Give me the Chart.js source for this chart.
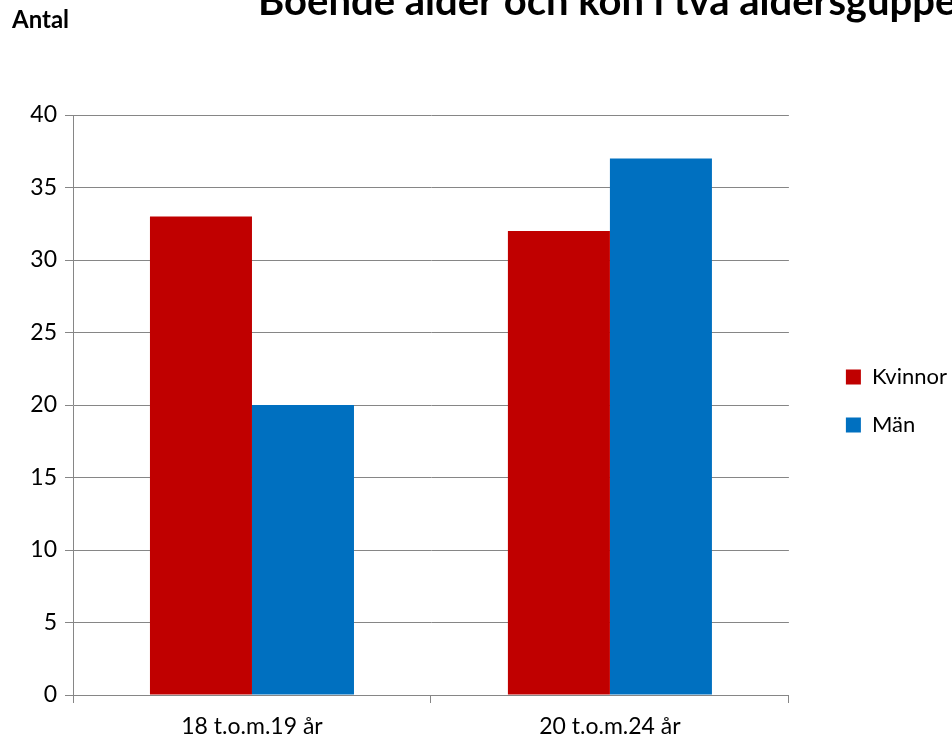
<!DOCTYPE html>
<html>
<head>
<meta charset="utf-8">
<script src="https://cdn.jsdelivr.net/npm/chart.js@4"></script>
<style>
  html, body { margin: 0; padding: 0; background: #fff; }
  #wrap { width: 952px; height: 742px; }
</style>
</head>
<body>
<div id="wrap"><canvas id="stapel"></canvas></div>
<script>
const kategorier = ["18 t.o.m.19 år", "20 t.o.m.24 år"];
const kvinnor = [33, 32];
const man = [20, 37];
const yTicks = [0, 5, 10, 15, 20, 25, 30, 35, 40];

// rubriker ritas direkt, titeln är avklippt i originalet
const rubriker = {
  id: "rubriker",
  afterDraw(chart) {
    const ctx = chart.ctx;
    ctx.save();
    ctx.fillStyle = "#000";
    ctx.textBaseline = "alphabetic";
    ctx.font = "bold 24px Lato";
    ctx.fillText("Antal", 12, 28);
    ctx.font = "bold 40px Lato";
    ctx.fillText("Boende ålder och kön i två åldersgupper", 258, 15);
    ctx.restore();
  }
};

// flytta legenden ut mot högerkanten och centrera mot ritytan
const legendPlats = {
  id: "legendPlats",
  afterLayout(chart) {
    const lg = chart.legend;
    const a = chart.chartArea;
    const dx = chart.width - lg.right + 5;
    const dy = (a.top + a.bottom) / 2 - (lg.top + lg.bottom) / 2 - 4;
    lg.left += dx;
    lg.right += dx;
    lg.top += dy;
    lg.bottom += dy;
  }
};

const ctx = document.querySelector("#stapel");
const stapelChart = new Chart(ctx, {
  type: "bar",
  data: {
    labels: kategorier,
    datasets: [
      { label: "Kvinnor", data: kvinnor, backgroundColor: "#c00000" },
      { label: "Män", data: man, backgroundColor: "#0070c0" },
    ],
  },
  options: {
    responsive: true,
    maintainAspectRatio: false,
    animation: false,
    layout: { padding: { top: 115, right: 26, left: 0, bottom: 0 } },
    datasets: { bar: { categoryPercentage: 0.57, barPercentage: 1 } },
    scales: {
      x: {
        afterFit(axis) { axis.height = 47; },
        grid: { display: true, drawOnChartArea: false, offset: true, tickLength: 8, color: "#868686" },
        border: { color: "#868686" },
        ticks: { color: "#000", font: { family: "Lato", size: 23 }, padding: 10 },
      },
      y: {
        min: 0,
        max: 40,
        afterBuildTicks(axis) { axis.ticks = yTicks.map(v => ({ value: v })); },
        afterFit(axis) { axis.width = 73; },
        grid: { color: "#868686", tickLength: 8 },
        border: { color: "#868686" },
        ticks: { color: "#000", font: { family: "Lato", size: 23 }, padding: 8 },
      },
    },
    plugins: {
      legend: {
        position: "right",
        labels: { boxWidth: 15, boxHeight: 15, color: "#000", font: { family: "Lato", size: 22 }, padding: 26 },
      },
      tooltip: { enabled: false },
    },
  },
  plugins: [rubriker, legendPlats],
});
</script>
</body>
</html>
